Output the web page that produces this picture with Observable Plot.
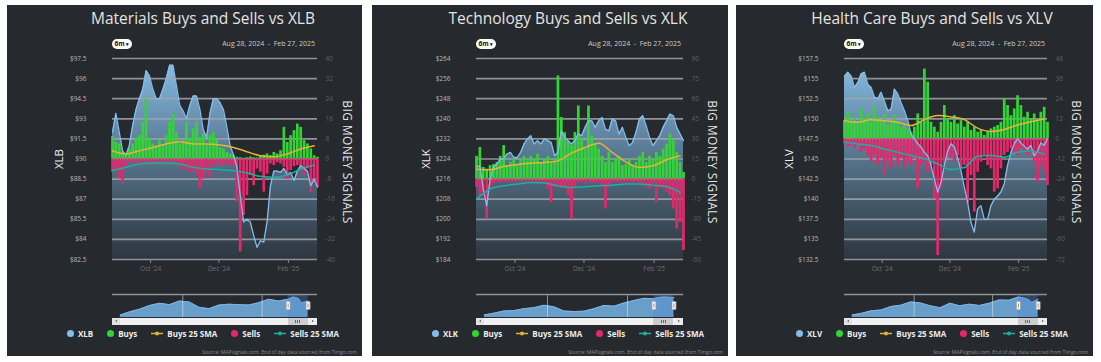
<!DOCTYPE html>
<html><head><meta charset="utf-8">
<script src="https://cdn.jsdelivr.net/npm/d3@7"></script>
<script src="https://cdn.jsdelivr.net/npm/@observablehq/plot@0.6"></script>
<style>
html,body{margin:0;padding:0;background:#ffffff;}
body{width:1101px;height:362px;position:relative;overflow:hidden;font-family:"Open Sans",sans-serif;}
.panel{position:absolute;top:5px;height:351px;background:#26292d;overflow:hidden;}
.title{position:absolute;top:3px;left:0;width:392px;text-align:center;color:#e4e4e4;font-size:15.5px;line-height:20px;white-space:nowrap;}
.btn{position:absolute;top:34px;height:10px;width:20px;background:#fff;border-radius:5px;color:#111;font-size:6.5px;font-weight:700;line-height:10px;text-align:center;}
.range{position:absolute;top:34px;height:10px;line-height:10px;font-size:7px;color:#c9cbce;white-space:nowrap;text-align:right;}
.rot{position:absolute;white-space:nowrap;}
.scroll{position:absolute;top:313px;height:7px;background:#f1f1f1;}
.sbtn{position:absolute;top:0;width:8px;height:7px;background:#e2e2e2;}
.thumb{position:absolute;top:0;height:7px;background:#cdcdcd;}
.legend{position:absolute;top:323px;left:0;width:392px;display:flex;justify-content:center;align-items:center;gap:14px;color:#ececec;font-size:8px;font-weight:700;white-space:nowrap;line-height:11px;}
.legend .it{display:flex;align-items:center;gap:4px;}
.source{position:absolute;top:344px;right:5px;font-size:5px;color:#8a8d91;white-space:nowrap;}
</style></head><body><script>
// ---- time frame ----
const startDate = new Date("2024-08-28");
const endDate = new Date("2025-02-27");
const sampleStepDays = 3;   // bars / price sampled every 3 calendar days
const smaStepDays = 12;     // SMA readings every 12 calendar days
const xTickDates = ["2024-10-01", "2024-12-01", "2025-02-01"];
const navDates = ["2020-06-05","2020-09-01","2020-12-01","2021-03-01","2021-06-01","2021-09-01","2021-12-01","2022-03-01","2022-06-01","2022-09-01","2022-12-01","2023-03-01","2023-06-01","2023-09-01","2023-12-01","2024-03-01","2024-06-01","2024-08-28","2024-10-15","2024-12-01","2024-12-31","2025-02-27"];
const navDomain = ["2020-03-25", "2025-05-25"];
const navGridDates = ["2022-01-01", "2024-01-01"];

// ---- XLB ----
const xlbPriceTicks = [82.5,84,85.5,87,88.5,90,91.5,93,94.5,96,97.5];
const xlbSignalTicks = [-40,-32,-24,-16,-8,0,8,16,24,32,40];
const xlbPrice = [92.0,93.4,92.0,90.6,90.3,91.0,92.5,93.7,94.5,95.2,
 96.6,96.2,95.2,94.5,94.5,95.2,96.0,97.0,97.0,95.5,
 94.0,93.6,93.0,94.0,94.7,94.7,93.7,92.2,91.6,93.4,
 94.5,94.5,94.2,93.7,92.4,91.0,90.3,89.4,87.3,85.3,
 85.5,85.3,84.3,83.4,83.9,83.8,85.3,88.0,89.1,89.1,
 89.0,89.3,88.8,89.0,88.4,89.1,89.5,89.3,89.1,88.0,
 88.5,87.9];
const xlbBuys = [9,6.6,6,2.6,2,4,6,8,9.3,14.6,
 23.8,8,6,4.6,7.3,5.3,9.3,14.6,17.9,10.6,
 6,7.3,14.6,8,12,14.6,8.6,10,5.3,9.3,
 10.6,8,4.6,4,2.6,2,1.3,0.7,0.5,0.3,
 0.5,0.8,0.5,0.4,1,1.5,2,1.3,2.6,2,
 3.3,12.6,6.6,9.3,11.3,13.9,12.6,7.3,6,4,
 1.3,0.7];
const xlbSells = [-5.3,-4.6,-8,-10,-4,-1.3,-1.5,-2,-1,-2.5,
 -1,-1.5,-2,-1,-1.5,-1,-2,-1,-1.5,-2,
 -2.6,-4.6,-4,-5.3,-4.6,-6.6,-12,-8,-4.6,-7.3,
 -2.6,-2,-3,-2,-2.5,-3,-2.6,-17,-37,-22.5,
 -14.6,-6.6,-10.6,-4,-5.3,-13.2,-6,-2,-2.6,-1.5,
 -2,-3.3,-8,-4.6,-3,-2.6,-4.6,-6.6,-4,-13.2,
 -9.3,-11.3];
const xlbBuysSMA = [3.3,2.0,3.3,4.6,6.0,6.9,6.0,6.0,5.6,4.6,2.9,1.3,0.9,2.0,4.0,5.3];
const xlbSellsSMA = [-4.6,-3.3,-2.0,-1.6,-1.6,-2.0,-3.3,-4.0,-4.2,-4.6,-5.6,-6.9,-7.3,-6.4,-4.0,-2.4];
const xlbNav = [57,64,70,78,83,80,88,86,74,71,79,81,80,79,84,92,88,92,97,93.5,84,88];

// ---- XLK ----
const xlkPriceTicks = [184,192,200,208,216,224,232,240,248,256,264];
const xlkSignalTicks = [-60,-45,-30,-15,0,15,30,45,60,75,90];
const xlkPrice = [221,221.3,212,205.4,216,220.7,222,224,224,226,
 226.6,224.6,224.6,226.6,230,232,233.3,230,231.3,230,
 232,231.3,230.6,225.3,226.6,235.2,232.6,231.3,230,231.3,
 234,233.3,236.6,239.2,239.2,236.6,239.2,240.5,235.9,235.2,
 239.9,239.2,233.9,236.6,232.6,229.3,230.6,234.6,239.9,241.2,
 237.2,232.6,229.3,231.3,233.3,236.6,239.2,241.9,241.2,236.6,
 233.9,231.3];
const xlkBuys = [17,23.6,8.7,7.4,10,11,12.4,17,25,10,
 12.4,14.9,11,14.9,17,13.6,17,14.9,18.6,12.4,
 14.9,17,12.4,14.9,77,46,34.7,27.3,24.8,34.7,
 54.6,29.8,22.3,54.6,32.3,26,22.3,17,12.4,19.9,
 12.4,14.9,17,10,11,14.9,10,12.4,17,19.9,
 12.4,17,14.9,19.9,17,22.3,26,33.5,28.5,19.9,
 12.4,5];
const xlkSells = [-6.2,-12.4,-9.9,-29.8,-7.4,-3.7,-2.5,-3,-2,-3,
 -2,-2.5,-1.5,-2,-1.5,-2,-1.5,-2,-2.5,-2,
 -3.7,-7.4,-17.4,-6.2,-5,-7.4,-6.2,-12.4,-29.8,-6.2,
 -3,-2.5,-3.5,-2,-3,-3,-2.5,-5,-22.3,-6.2,
 -3,-2.5,-3,-2,-3.7,-2.5,-3,-2.5,-3,-4,
 -6.2,-7.4,-3.7,-17.4,-6.2,-7.4,-9.9,-12.4,-22.3,-37.2,
 -32.3,-53.3];
const xlkBuysSMA = [7.4,6.9,9.4,10.9,11.9,12.4,13.6,19.4,23.6,26.8,19.9,12.9,8.7,9.9,14.4,17.4];
const xlkSellsSMA = [-14.9,-7.4,-5,-3.7,-2.5,-3,-5,-6.2,-5.7,-5,-4.5,-3.7,-3.7,-4.5,-5.5,-9.9];
const xlkNav = [98,112,128,131,146,154,172,160,128,124,127,146,171,165,190,208,225,222,232,235,234,231];

// ---- XLV ----
const xlvPriceTicks = [132.5,135,137.5,140,142.5,145,147.5,150,152.5,155,157.5];
const xlvSignalTicks = [-72,-60,-48,-36,-24,-12,0,12,24,36,48];
const xlvPrice = [155.3,155.8,155.3,153.9,154.5,155.6,155.8,154.3,153.9,152.7,
 152.5,153.3,152.2,151,151.2,153.7,153.1,152,151,149.8,
 148.1,147.5,146.9,146.5,145.8,145.4,144.2,142.5,140.9,142.1,
 144.2,146,146.9,146.5,145.2,143.5,141.5,139.6,137.1,135.9,
 138.8,139.2,137.5,137.5,139.2,140,140.4,140.9,141.9,144.2,
 145.8,146.9,147.5,147,146.6,146.2,146.7,145.4,146,147,
 146.7,147.5];
const xlvBuys = [10.9,15.9,9.9,12.9,8.9,17.9,11.9,14.9,9.9,19.9,
 12.9,9.9,14.9,8,10.9,13.9,9.9,7,8,6,
 4,7,14.9,9.9,41.7,33.8,9.9,7,4,9.9,
 19.9,11.9,9.9,13.9,8.9,10.9,7,9.9,5,7,
 4,5,2,4,6,7,8,9.9,23.9,19.9,
 13.9,17.9,25.8,19.9,12.9,15.9,11.9,14.9,10.9,15.9,
 18.9,9.9];
const xlvSells = [-3,-5,-4,-6,-4,-8,-6,-9.9,-13.9,-9.9,
 -15.9,-11.9,-21.9,-13.9,-17.9,-9.9,-15.9,-11.9,-17.9,-13.9,
 -15.9,-11.9,-29.8,-15.9,-13.9,-19.9,-15.9,-35.8,-69.6,-29.8,
 -15.9,-9.9,-11.9,-13.9,-9.9,-17.9,-15.9,-38.2,-21.9,-43.7,
 -19.9,-13.9,-9.9,-15.9,-17.9,-31.8,-29.8,-17.9,-9.9,-8,
 -6,-8,-9.9,-6,-8,-9.9,-8,-13.9,-25.8,-15.9,
 -19.9,-27.8];
const xlvBuysSMA = [10.9,9.9,11.5,10.9,9.9,8,11.5,13.9,13.1,11.5,6.4,4.4,5.6,8.3,10.3,11.9];
const xlvSellsSMA = [-2,-3,-4,-6,-8,-9.9,-11.9,-14.9,-18.3,-17.1,-10.3,-9.9,-10.9,-8,-7.2,-9.1];
const xlvNav = [100,105,113,115,126,130,140,137,128,122,136,128,133,129,136,146,145,155,152,147,138,148];

const legendNames = ["Buys", "Buys 25 SMA", "Sells", "Sells 25 SMA"];
const sourceText = "Source: MAPsignals.com. End of day data sourced from Tiingo.com";
const rangeText = "Aug 28, 2024  \u00a0-\u00a0  Feb 27, 2025";

const panels = [
  {title:"Materials Buys and Sells vs XLB", ticker:"XLB", price:xlbPrice, buys:xlbBuys, sells:xlbSells, buysSMA:xlbBuysSMA, sellsSMA:xlbSellsSMA, nav:xlbNav, priceTicks:xlbPriceTicks, signalTicks:xlbSignalTicks},
  {title:"Technology Buys and Sells vs XLK", ticker:"XLK", price:xlkPrice, buys:xlkBuys, sells:xlkSells, buysSMA:xlkBuysSMA, sellsSMA:xlkSellsSMA, nav:xlkNav, priceTicks:xlkPriceTicks, signalTicks:xlkSignalTicks},
  {title:"Health Care Buys and Sells vs XLV", ticker:"XLV", price:xlvPrice, buys:xlvBuys, sells:xlvSells, buysSMA:xlvBuysSMA, sellsSMA:xlvSellsSMA, nav:xlvNav, priceTicks:xlvPriceTicks, signalTicks:xlvSignalTicks}
];
const layout = [
  {left:7, width:355, plotLeft:105, plotRight:310, tickerX:51},
  {left:372, width:356, plotLeft:104, plotRight:311, tickerX:53},
  {left:736, width:357, plotLeft:108, plotRight:311, tickerX:52}
];
const colors = {price:"#84bdea", buys:"#33d435", sells:"#e3286b", buysSMA:"#e2b536", sellsSMA:"#20ada4"};

function place(svg, top) {
  svg.style.position = "absolute"; svg.style.left = "0px"; svg.style.top = top + "px";
  svg.style.background = "transparent"; svg.style.maxWidth = "none";
  return svg;
}

function buildPanel(cfg, lay, idx) {
  const panel = document.createElement("div");
  panel.className = "panel";
  panel.style.left = lay.left + "px"; panel.style.width = lay.width + "px";
  document.body.appendChild(panel);

  const W = lay.width, H = 275, mT = 53, mB = 21, mL = lay.plotLeft, mR = W - lay.plotRight;
  const rows = cfg.price.map((p, i) => ({date: d3.utcDay.offset(startDate, sampleStepDays * i), price: p, buys: cfg.buys[i], sells: cfg.sells[i]}));
  const smaRows = cfg.buysSMA.map((b, k) => ({date: d3.utcDay.offset(startDate, smaStepDays * k), buys: b, sells: cfg.sellsSMA[k]}));
  const pDomain = d3.extent(cfg.priceTicks);
  const sDomain = d3.extent(cfg.signalTicks);
  const xDom = [startDate, endDate];
  const common = {width: W, height: H, marginTop: mT, marginBottom: mB, marginLeft: mL, marginRight: mR,
    style: {background: "transparent", fontFamily: "'Open Sans', sans-serif", fontSize: "6.5px", overflow: "visible"}};
  const gid = "areaGrad" + idx;
  const defs = () => {
    const d = d3.create("svg:defs");
    const g = d.append("linearGradient").attr("id", gid).attr("gradientUnits", "userSpaceOnUse")
      .attr("x1", 0).attr("x2", 0).attr("y1", mT).attr("y2", H - mB);
    g.append("stop").attr("offset", 0).attr("stop-color", "#8cc4ee").attr("stop-opacity", 0.98);
    g.append("stop").attr("offset", 1).attr("stop-color", "#6ea0c8").attr("stop-opacity", 0.12);
    return d.node();
  };

  // Layer A: price area, grid, left + bottom axes
  const layerA = Plot.plot({...common,
    x: {type: "utc", domain: xDom, label: null},
    y: {domain: pDomain, label: null},
    marks: [
      defs,
      Plot.areaY(rows, {x: "date", y1: pDomain[0], y2: "price", fill: `url(#${gid})`}),
      Plot.gridY(cfg.priceTicks, {stroke: "#a2a6ab", strokeOpacity: 0.85, strokeWidth: 1.7}),
      Plot.axisY(cfg.priceTicks, {tickSize: 0, tickPadding: 26, tickFormat: d => "$" + d, fill: "#b6b9bd", label: null}),
      Plot.axisX(xTickDates.map(d => new Date(d)), {tickSize: 4, tickPadding: 3, tickFormat: d3.utcFormat("%b '%y"), stroke: "#8a8e93", fill: "#6d7176", label: null})
    ]});
  panel.appendChild(place(layerA, 0));

  // Layer B: buy / sell bars + right axis
  const layerB = Plot.plot({...common,
    x: {type: "utc", domain: xDom, axis: null, label: null},
    y: {domain: sDomain, label: null},
    marks: [
      Plot.ruleX(rows, {x: "date", y1: 0, y2: "buys", stroke: colors.buys, strokeWidth: 2.7}),
      Plot.ruleX(rows, {x: "date", y1: 0, y2: "sells", stroke: colors.sells, strokeWidth: 2.7}),
      Plot.axisY(cfg.signalTicks, {anchor: "right", tickSize: 0, tickPadding: 8, tickFormat: d => String(d), fill: "#5f6368", label: null})
    ]});
  panel.appendChild(place(layerB, 0));

  // Layer C: price line
  const layerC = Plot.plot({...common,
    x: {type: "utc", domain: xDom, axis: null},
    y: {domain: pDomain, axis: null},
    marks: [Plot.lineY(rows, {x: "date", y: "price", stroke: colors.price, strokeWidth: 1.3})]});
  panel.appendChild(place(layerC, 0));

  // Layer D: SMA lines
  const layerD = Plot.plot({...common,
    x: {type: "utc", domain: xDom, axis: null},
    y: {domain: sDomain, axis: null},
    marks: [
      Plot.lineY(smaRows, {x: "date", y: "buys", stroke: colors.buysSMA, strokeWidth: 1.5, curve: "monotone-x"}),
      Plot.lineY(smaRows, {x: "date", y: "sells", stroke: colors.sellsSMA, strokeWidth: 1.5, curve: "monotone-x"})
    ]});
  panel.appendChild(place(layerD, 0));

  // Navigator
  const navRows = navDates.map((d, i) => ({date: new Date(d), v: cfg.nav[i]}));
  const [nMin, nMax] = d3.extent(cfg.nav);
  const pad = (nMax - nMin) * 0.14;
  const nyDom = [nMin - pad, nMax + pad];
  const nMid = (nyDom[0] + nyDom[1]) / 2, nHalf = (nyDom[1] - nyDom[0]) * 0.17;
  const navPlot = Plot.plot({width: W, height: 27, marginTop: 2, marginBottom: 2, marginLeft: mL, marginRight: mR,
    style: {background: "transparent", overflow: "visible"},
    x: {type: "utc", domain: navDomain.map(d => new Date(d)), axis: null},
    y: {domain: nyDom, axis: null},
    marks: [
      Plot.areaY(navRows, {x: "date", y1: nyDom[0], y2: "v", fill: "#72aee0", fillOpacity: 0.88}),
      Plot.lineY(navRows, {x: "date", y: "v", stroke: "#7cb5ec", strokeWidth: 1}),
      Plot.rect([{a: startDate, b: endDate}], {x1: "a", x2: "b", y1: nyDom[0], y2: nyDom[1], fill: "#4f86d6", fillOpacity: 0.32}),
      Plot.ruleX(navGridDates.map(d => new Date(d)), {stroke: "#e4e8ec", strokeOpacity: 0.55}),
      Plot.ruleY([nyDom[1]], {stroke: "#8f9297", strokeWidth: 1.3}),
      Plot.ruleX([startDate, endDate], {y1: nMid - nHalf, y2: nMid + nHalf, stroke: "#9a9a9a", strokeWidth: 5}),
      Plot.ruleX([startDate, endDate], {y1: nMid - nHalf, y2: nMid + nHalf, stroke: "#f4f4f4", strokeWidth: 3.4}),
      Plot.ruleX([startDate, endDate], {y1: nMid - nHalf * 0.5, y2: nMid + nHalf * 0.5, stroke: "#777", strokeWidth: 0.7})
    ]});
  panel.appendChild(place(navPlot, 287));
  const nx = navPlot.scale("x");

  // Scrollbar
  const sc = document.createElement("div");
  sc.className = "scroll";
  sc.style.left = mL + "px"; sc.style.width = (lay.plotRight - mL) + "px";
  const tl = nx.apply(startDate) - mL, tr = nx.apply(endDate) - mL;
  sc.innerHTML =
    `<div class="sbtn" style="left:0"><div style="position:absolute;left:2.5px;top:2px;border-right:2.5px solid #555;border-top:1.5px solid transparent;border-bottom:1.5px solid transparent"></div></div>` +
    `<div class="thumb" style="left:${tl}px;width:${tr - tl}px"><div style="position:absolute;left:50%;top:2px;width:5px;height:3px;margin-left:-2.5px;background:repeating-linear-gradient(90deg,#666 0 1px,transparent 1px 2px)"></div></div>` +
    `<div class="sbtn" style="right:0;background:#ececec"><div style="position:absolute;left:3px;top:2px;border-left:2.5px solid #555;border-top:1.5px solid transparent;border-bottom:1.5px solid transparent"></div></div>`;
  panel.appendChild(sc);

  // Title, header
  const t = document.createElement("div"); t.className = "title"; t.textContent = cfg.title; panel.appendChild(t);
  const b = document.createElement("div"); b.className = "btn"; b.style.left = mL + "px";
  b.innerHTML = `6m <span style="font-size:5px">\u25BE</span>`; panel.appendChild(b);
  const r = document.createElement("div"); r.className = "range"; r.style.right = (W - lay.plotRight + 2) + "px";
  r.textContent = rangeText; panel.appendChild(r);

  // Rotated axis titles
  const tk = document.createElement("div"); tk.className = "rot"; tk.textContent = cfg.ticker;
  tk.style.cssText += `left:${lay.tickerX}px;top:154px;transform:translate(-50%,-50%) rotate(-90deg);font-size:11.5px;color:#efefef;`;
  panel.appendChild(tk);
  const bm = document.createElement("div"); bm.className = "rot"; bm.textContent = "BIG MONEY SIGNALS";
  bm.style.cssText += `left:340px;top:157px;transform:translate(-50%,-50%) rotate(90deg);font-size:12px;color:#e3e3e3;letter-spacing:0.4px;`;
  panel.appendChild(bm);

  // Legend
  const lg = document.createElement("div"); lg.className = "legend";
  const dot = c => `<i style="display:inline-block;width:7px;height:7px;border-radius:50%;background:${c}"></i>`;
  const lineMk = c => `<svg width="12" height="7" style="display:block"><line x1="0" y1="3.5" x2="12" y2="3.5" stroke="${c}" stroke-width="1.5"/><circle cx="6" cy="3.5" r="2" fill="${c}"/></svg>`;
  lg.innerHTML =
    `<span class="it">${dot(colors.price)}${cfg.ticker}</span>` +
    `<span class="it">${dot(colors.buys)}${legendNames[0]}</span>` +
    `<span class="it">${lineMk(colors.buysSMA)}${legendNames[1]}</span>` +
    `<span class="it">${dot(colors.sells)}${legendNames[2]}</span>` +
    `<span class="it">${lineMk(colors.sellsSMA)}${legendNames[3]}</span>`;
  panel.appendChild(lg);

  const src = document.createElement("div"); src.className = "source"; src.textContent = sourceText; panel.appendChild(src);
}

panels.forEach((p, i) => buildPanel(p, layout[i], i));
</script></body></html>
